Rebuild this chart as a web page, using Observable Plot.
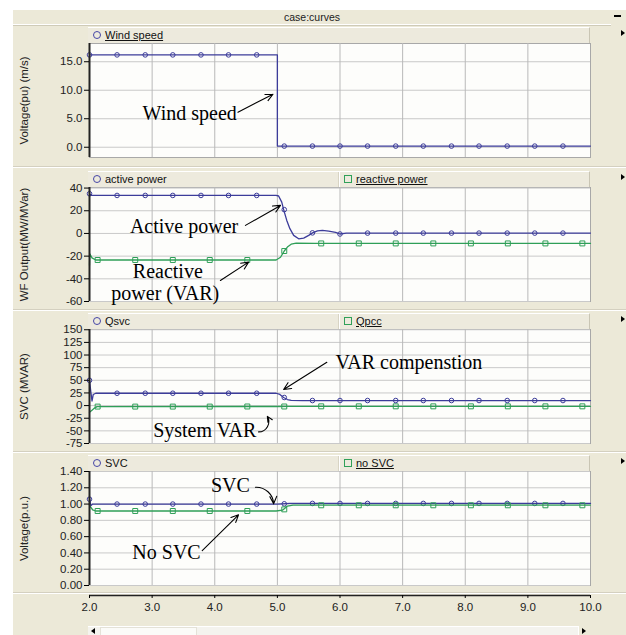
<!DOCTYPE html>
<html><head><meta charset="utf-8">
<script src="https://cdn.jsdelivr.net/npm/d3@7"></script>
<script src="https://cdn.jsdelivr.net/npm/@observablehq/plot@0.6"></script>
<style>
body{margin:0;background:#fff;}
#app{position:relative;width:626px;height:635px;overflow:hidden;font-family:"Liberation Sans",Arial,sans-serif;}
.bg{position:absolute;left:13px;top:10px;right:0;bottom:0;background:#ECE9D8;}
.hdr{position:absolute;left:13px;top:10px;width:598px;height:14px;background:#ECE9D8;border-bottom:1px solid #fff;box-shadow:0 1px 0 #cfcbb8;font-size:10.5px;line-height:14px;text-align:center;color:#222;}
.minbtn{position:absolute;left:614px;top:15px;width:7px;height:2px;background:#000;}
.sep{position:absolute;left:13px;right:0;height:1px;background:#fff;border-top:1px solid #d4d0c0;}
.leg{position:absolute;left:88px;width:502px;height:16px;background:#EDEADD;border-top:1px solid #fff;border-right:1px solid #c9c5b4;box-sizing:border-box;font-size:11px;line-height:15px;color:#111;}
.item{position:absolute;top:0;height:15px;white-space:nowrap;}
.item2{left:250px;padding-left:5px;border-left:1px solid #d8d4c4;box-shadow:inset 1px 0 0 #fff;}
.circ{display:inline-block;width:6px;height:6px;border:1px solid #4646a6;border-radius:50%;margin-right:4px;vertical-align:0px;}
.sq{display:inline-block;width:6px;height:6px;border:1px solid #30a058;margin-right:4px;vertical-align:0px;}
.ul{text-decoration:underline;}
.tri{position:absolute;left:621px;width:0;height:0;border-left:4px solid #000;border-top:3px solid transparent;border-bottom:3px solid transparent;}
.plot{position:absolute;left:0;}
.track{position:absolute;left:88px;top:626px;width:502px;height:9px;background:#F4F3EE;border-top:1px solid #fff;}
.thumb{position:absolute;left:100px;top:627px;width:95px;height:8px;background:#FBFBF8;border:1px solid #e4e2d8;}
.rbtn{position:absolute;left:578px;top:626px;width:12px;height:9px;background:#ECE9D8;border-left:1px solid #fff;}
</style></head>
<body><div id="app"><div class="bg"></div></div>
<script>
// ---------- data ----------
const timeDomain = [2, 10];
const timeTicks = [2, 3, 4, 5, 6, 7, 8, 9, 10];
const gridTimes = [3, 4, 5, 6, 7, 8, 9];

// marker sample times (circle series / square series)
const circleMarkTimes = [2.0, 2.44, 2.89, 3.33, 3.78, 4.22, 4.67, 5.11, 5.56, 6.0, 6.44, 6.89, 7.33, 7.78, 8.22, 8.67, 9.11, 9.56];
const squareMarkTimes = [2.13, 2.73, 3.33, 3.92, 4.52, 5.11, 5.70, 6.30, 6.89, 7.49, 8.09, 8.68, 9.28, 9.87];

// Panel 1: wind speed
const windTime  = [2.0, 5.0, 5.0, 10.0];
const windSpeed = [16.2, 16.2, 0.2, 0.2];
const windMarks = [16.2, 16.2, 16.2, 16.2, 16.2, 16.2, 16.2, 0.2, 0.2, 0.2, 0.2, 0.2, 0.2, 0.2, 0.2, 0.2, 0.2, 0.2];
const windTicks = [0, 5, 10, 15];

// Panel 2: WF output
const activeTime  = [2.0, 2.03, 2.3, 4.98, 5.02, 5.07, 5.10, 5.15, 5.20, 5.26, 5.34, 5.42, 5.50, 5.56, 5.64, 5.72, 5.82, 5.93, 6.0, 6.1, 10.0];
const activePower = [35, 33.5, 33.5, 33.5, 33, 27.6, 21, 11.5, 4.2, -1.7, -4.7, -4.1, -1.7, 0.5, 2.2, 2.7, 2.0, 1.0, -0.5, 0.3, 0.3];
const activeMarks = [35, 33.5, 33.5, 33.5, 33.5, 33.5, 33.5, 21, 0.5, -0.5, 0.3, 0.3, 0.3, 0.3, 0.3, 0.3, 0.3, 0.3];
const reactiveTime  = [2.0, 2.005, 2.04, 2.1, 4.98, 5.05, 5.11, 5.16, 5.22, 5.3, 5.6, 10.0];
const reactivePower = [-28, -18, -21.5, -23.4, -23.4, -21, -15.5, -12, -9.5, -8.6, -8.8, -8.8];
const reactiveMarks = [-23.4, -23.4, -23.4, -23.4, -23.4, -15.5, -8.8, -8.8, -8.8, -8.8, -8.8, -8.8, -8.8, -8.8];
const wfTicks = [-60, -40, -20, 0, 20, 40];

// Panel 3: SVC
const qsvcTime  = [2.0, 2.02, 2.04, 2.06, 2.1, 4.98, 5.04, 5.1, 5.16, 5.22, 5.4, 10.0];
const qsvcValue = [50, 28, 9, 22, 24.4, 24.4, 22, 16, 12, 10.2, 10, 10];
const qsvcMarks = [50, 24.4, 24.4, 24.4, 24.4, 24.4, 24.4, 16, 10, 10, 10, 10, 10, 10, 10, 10, 10, 10];
const qpccTime  = [2.0, 2.04, 2.08, 2.12, 4.98, 5.2, 10.0];
const qpccValue = [-13, -9, -5, -2, -1.8, -1.5, -1.5];
const qpccMarks = [-2, -2, -2, -2, -1.8, -1.8, -1.5, -1.5, -1.5, -1.5, -1.5, -1.5, -1.5, -1.5];
const svcTicks = [-75, -50, -25, 0, 25, 50, 75, 100, 125, 150];

// Panel 4: voltage
const svcTime  = [2.0, 2.02, 2.05, 5.0, 5.2, 10.0];
const svcVolt  = [1.07, 0.98, 1.0, 1.0, 1.008, 1.008];
const svcMarks = [1.06, 1.0, 1.0, 1.0, 1.0, 1.0, 1.0, 1.003, 1.008, 1.008, 1.008, 1.008, 1.008, 1.008, 1.008, 1.008, 1.008, 1.008];
const noSvcTime = [2.0, 2.05, 2.1, 4.98, 5.08, 5.12, 5.16, 5.25, 10.0];
const noSvcVolt = [0.98, 0.93, 0.915, 0.915, 0.925, 0.95, 0.975, 0.988, 0.988];
const noSvcMarks = [0.915, 0.915, 0.915, 0.915, 0.915, 0.935, 0.985, 0.985, 0.985, 0.985, 0.985, 0.985, 0.985, 0.985];
const voltTicks = [0, 0.2, 0.4, 0.6, 0.8, 1.0, 1.2, 1.4];

// annotations (data coordinates)
const notes1 = [{t: 3.60, v: 5.9, text: "Wind speed"}];
const arrows1 = [{t1: 4.37, v1: 6.15, t2: 4.93, v2: 9.3, bend: 0}];
const notes2 = [{t: 3.51, v: 5.6, text: "Active power"}, {t: 3.25, v: -33.5, text: "Reactive"}, {t: 3.21, v: -53.2, text: "power (VAR)"}];
const arrows2 = [{t1: 4.49, v1: 7.1, t2: 5.05, v2: 24.7, bend: 0}, {t1: 4.09, v1: -41.5, t2: 4.54, v2: -25.3, bend: 0}];
const notes3 = [{t: 7.10, v: 85.6, text: "VAR compenstion"}, {t: 3.84, v: -48.8, text: "System VAR"}];
const arrows3 = [{t1: 5.79, v1: 85.6, t2: 5.10, v2: 31.9, bend: 0}, {t1: 4.70, v1: -52.1, t2: 4.84, v2: -21.3, bend: -60}];
const notes4 = [{t: 4.25, v: 1.228, text: "SVC"}, {t: 3.23, v: 0.409, text: "No SVC"}];
const arrows4 = [{t1: 4.65, v1: 1.207, t2: 4.94, v2: 1.003, bend: 45}, {t1: 3.80, v1: 0.429, t2: 4.38, v2: 0.868, bend: 0}];

// ---------- build ----------
const blue = "#3c3c9a", green = "#2f9f58";
const pts = (ts, vs) => ts.map((t, i) => ({t, v: vs[i]}));
const fmtHyphen = spec => { const f = d3.format(spec); return d => f(d).replace("\u2212", "-"); };

const panels = [
  {top: 43, domain: [-1.8, 18.2], ticks: windTicks, fmt: ".1f", label: "Voltage(pu) (m/s)",
   legend: [["circ", "Wind speed", true]],
   series: [{line: pts(windTime, windSpeed), marks: pts(circleMarkTimes, windMarks), color: blue, symbol: "circle"}],
   notes: notes1, arrows: arrows1},
  {top: 187, domain: [-60, 40.5], ticks: wfTicks, fmt: "d", label: "WF Output(MW/MVar)",
   legend: [["circ", "active power", false], ["sq", "reactive power", true]],
   series: [{line: pts(reactiveTime, reactivePower), marks: pts(squareMarkTimes, reactiveMarks), color: green, symbol: "square"},
            {line: pts(activeTime, activePower), marks: pts(circleMarkTimes, activeMarks), color: blue, symbol: "circle"}],
   notes: notes2, arrows: arrows2},
  {top: 328.5, domain: [-75, 150.5], ticks: svcTicks, fmt: "d", label: "SVC (MVAR)",
   legend: [["circ", "Qsvc", false], ["sq", "Qpcc", true]],
   series: [{line: pts(qpccTime, qpccValue), marks: pts(squareMarkTimes, qpccMarks), color: green, symbol: "square"},
            {line: pts(qsvcTime, qsvcValue), marks: pts(circleMarkTimes, qsvcMarks), color: blue, symbol: "circle"}],
   notes: notes3, arrows: arrows3},
  {top: 471, domain: [0, 1.4], ticks: voltTicks, fmt: ".2f", label: "Voltage(p.u.)",
   legend: [["circ", "SVC", false], ["sq", "no SVC", true]],
   series: [{line: pts(svcTime, svcVolt), marks: pts(circleMarkTimes, svcMarks), color: blue, symbol: "circle"},
            {line: pts(noSvcTime, noSvcVolt), marks: pts(squareMarkTimes, noSvcMarks), color: green, symbol: "square"}],
   notes: notes4, arrows: arrows4}
];

const app = document.getElementById("app");
function add(cls, style, html) {
  const d = document.createElement("div");
  d.className = cls;
  if (style) d.setAttribute("style", style);
  if (html) d.innerHTML = html;
  app.appendChild(d);
  return d;
}

add("hdr", "", "case:curves");
add("minbtn");
[166, 309, 451, 592].forEach(y => add("sep", `top:${y}px`));

const PH = 114, MT = 7, MB = 7;
panels.forEach(p => {
  const leg = add("leg", `top:${p.top - 16}px`);
  p.legend.forEach(([sym, name, ul], i) => {
    const it = document.createElement("div");
    it.className = "item" + (i === 1 ? " item2" : "");
    if (i === 0) it.style.left = "5px";
    it.innerHTML = `<span class="${sym}"></span><span class="${ul ? "ul" : ""}">${name}</span>`;
    leg.appendChild(it);
  });
  add("tri", `top:${p.top - 13}px`);

  const marks = [
    Plot.frame({fill: "#FDFDFB", stroke: "#a8a8a8"}),
    Plot.gridY(p.ticks, {stroke: "#c9c9c9", strokeOpacity: 1}),
    Plot.gridX(gridTimes, {stroke: "#b9b9b9", strokeOpacity: 1})
  ];
  p.series.forEach(s => {
    marks.push(Plot.line(s.line, {x: "t", y: "v", stroke: s.color, strokeWidth: 1.3}));
    marks.push(Plot.dot(s.marks, {x: "t", y: "v", stroke: s.color, fill: "none", strokeWidth: 1,
      symbol: s.symbol, r: s.symbol === "square" ? 2.8 : 2.3}));
  });
  marks.push(Plot.ruleX([timeDomain[0]], {stroke: "#222", strokeWidth: 2}));
  marks.push(Plot.axisY({ticks: p.ticks, tickFormat: fmtHyphen(p.fmt), tickSize: 5, tickPadding: 2,
    label: p.label, labelAnchor: "center", labelOffset: 70, labelArrow: "none", fill: "#222"}));
  marks.push(Plot.text(p.notes, {x: "t", y: "v", text: "text", fontFamily: "Liberation Serif, Times New Roman, serif",
    fontSize: 20, fill: "#000"}));
  p.arrows.forEach(a => {
    marks.push(Plot.arrow([a], {x1: "t1", y1: "v1", x2: "t2", y2: "v2", bend: a.bend, stroke: "#000",
      strokeWidth: 1.1, headLength: 11, headAngle: 50}));
  });

  const svg = Plot.plot({
    width: 626, height: PH + MT + MB,
    marginLeft: 89, marginRight: 36, marginTop: MT, marginBottom: MB,
    x: {domain: timeDomain, axis: null},
    y: {domain: p.domain, axis: null},
    style: {background: "transparent", overflow: "visible", fontFamily: "Liberation Sans, Arial, sans-serif", fontSize: "11.5px"},
    marks
  });
  svg.classList.add("plot");
  svg.style.position = "absolute";
  svg.style.top = (p.top - MT) + "px";
  app.appendChild(svg);
});

// shared time axis
const xa = Plot.plot({
  width: 626, height: 30, marginLeft: 89, marginRight: 36, marginTop: 2, marginBottom: 28,
  x: {domain: timeDomain},
  y: {domain: [0, 1], axis: null},
  style: {background: "transparent", overflow: "visible", fontFamily: "Liberation Sans, Arial, sans-serif", fontSize: "11.5px"},
  marks: [
    Plot.ruleY([0], {stroke: "#222", strokeWidth: 1.5}),
    Plot.axisX({ticks: timeTicks, tickFormat: ".1f", tickSize: 3, tickPadding: 4, fill: "#222", label: null})
  ]
});
xa.style.position = "absolute";
xa.style.left = "0px";
xa.style.top = "593px";
app.appendChild(xa);

// scrollbar
add("track");
add("thumb");
add("tri", "left:91px;top:628px;border-left:none;border-right:4px solid #000;");
add("rbtn");
add("tri", "left:582px;top:628px;");
</script></body></html>
